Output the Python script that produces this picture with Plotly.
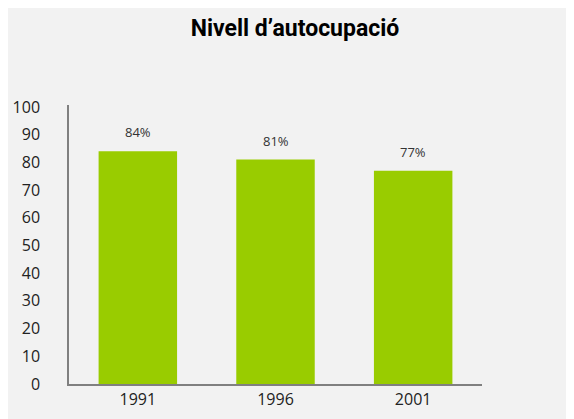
import plotly.graph_objects as go

years = ["1991", "1996", "2001"]
values = [84, 81, 77]
labels = ["84%", "81%", "77%"]
y_ticks = [0, 10, 20, 30, 40, 50, 60, 70, 80, 90, 100]

fig = go.Figure()

fig.add_trace(
    go.Bar(
        x=years,
        y=values,
        marker_color="#99cc00",
        marker_line_width=0,
        width=0.57,
        showlegend=False,
        hoverinfo="x+y",
    )
)

# value labels sit a bit above each bar
for i, (v, lab) in enumerate(zip(values, labels)):
    fig.add_annotation(
        x=i, y=v, xref="x", yref="y", text=lab, showarrow=False, yshift=19,
        font=dict(family="Open Sans", size=13, color="#333333"),
    )

fig.update_layout(
    title=dict(
        text="<b>Nivell d’autocupació</b>",
        x=0.5, xanchor="center", y=0.952, yanchor="middle",
        font=dict(family="Roboto", size=23, color="#000000"),
    ),
    width=574,
    height=419,
    margin=dict(l=61, r=100, t=97, b=43),
    paper_bgcolor="#f2f2f2",
    plot_bgcolor="#f2f2f2",
    xaxis=dict(
        type="category", automargin=False,
        showline=True, linecolor="#808080", linewidth=1.5,
        showgrid=False, ticks="", range=[-0.5, 2.5],
        tickfont=dict(family="Open Sans", size=16, color="#222222"),
    ),
    yaxis=dict(
        automargin=False,
        showline=True, linecolor="#808080", linewidth=1.5,
        showgrid=False, zeroline=False, ticks="",
        range=[0, 100.7], tickvals=y_ticks,
        ticklabelstandoff=24,
        tickfont=dict(family="Open Sans", size=16, color="#222222"),
    ),
)

fig.write_html("out.html")
